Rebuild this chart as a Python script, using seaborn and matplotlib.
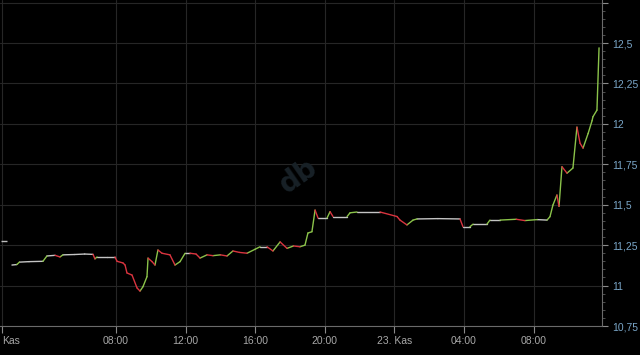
import numpy as np
import pandas as pd
import matplotlib
matplotlib.use("Agg")
import matplotlib.pyplot as plt
from matplotlib.ticker import FixedLocator, AutoMinorLocator
import seaborn as sns

# hours since 22 Nov 00:00
hours = [2.02, 2.30, 2.45, 3.00, 3.80, 4.03, 4.50, 4.78, 4.95, 5.60, 6.20, 6.68, 6.79, 6.91,
         7.50, 7.94, 8.06, 8.40, 8.52, 8.63, 8.92, 9.21, 9.38, 9.55, 9.78, 9.84, 10.07, 10.24,
         10.41, 10.64, 11.10, 11.39, 11.68, 11.97, 12.25, 12.60, 12.83, 13.23, 13.57, 14.00,
         14.38, 14.72, 15.10, 15.53, 16.00, 16.28, 16.68, 17.02, 17.43, 17.83, 18.20, 18.57,
         18.86, 19.03, 19.26, 19.44, 19.61, 20.13, 20.30, 20.47, 21.28, 21.45, 21.85, 23.17,
         24.15, 24.32, 24.72, 25.07, 25.30, 26.50, 27.77, 27.94, 28.34, 28.52, 29.32, 29.49,
         30.07, 31.00, 31.50, 32.20, 32.77, 32.94, 33.11, 33.34, 33.46, 33.63, 33.92, 34.26,
         34.49, 34.67, 34.84, 35.13, 35.36, 35.41, 35.64, 35.76]
prices = [11.127, 11.130, 11.145, 11.148, 11.150, 11.183, 11.187, 11.177, 11.190, 11.192,
          11.195, 11.193, 11.165, 11.177, 11.177, 11.177, 11.150, 11.140, 11.127, 11.078,
          11.065, 10.985, 10.966, 10.993, 11.055, 11.170, 11.148, 11.127, 11.220, 11.200,
          11.190, 11.127, 11.148, 11.200, 11.200, 11.195, 11.170, 11.190, 11.185, 11.190,
          11.183, 11.214, 11.205, 11.200, 11.225, 11.240, 11.240, 11.214, 11.270, 11.230,
          11.245, 11.240, 11.250, 11.325, 11.333, 11.467, 11.418, 11.418, 11.457, 11.427,
          11.427, 11.450, 11.455, 11.455, 11.427, 11.405, 11.375, 11.405, 11.412, 11.414,
          11.412, 11.364, 11.364, 11.380, 11.380, 11.405, 11.405, 11.410, 11.402, 11.408,
          11.405, 11.426, 11.498, 11.560, 11.490, 11.735, 11.695, 11.727, 11.980, 11.880,
          11.850, 11.940, 12.020, 12.044, 12.085, 12.470]
prev_close = 11.277
prev_hours = [1.40, 1.75]

xtick_pos = [1.45, 8, 12, 16, 20, 24, 28, 32]
xtick_lab = ["Kas", "08:00", "12:00", "16:00", "20:00", "23. Kas", "04:00", "08:00"]
ytick_pos = [10.75, 11.0, 11.25, 11.5, 11.75, 12.0, 12.25, 12.5, 12.75]
ytick_lab = ["10,75", "11", "11,25", "11,5", "11,75", "12", "12,25", "12,5", ""]

# build per-segment long table
rows = []
for i in range(1, len(hours)):
    d = prices[i] - prices[i - 1]
    kind = "up" if d > 0.004 else ("down" if d < -0.004 else "flat")
    rows.append((i, hours[i - 1], prices[i - 1], kind))
    rows.append((i, hours[i], prices[i], kind))
seg = pd.DataFrame(rows, columns=["seg", "h", "p", "kind"])

sns.set_style("dark")
plt.rcParams["font.family"] = ["Liberation Sans", "DejaVu Sans"]

fig = plt.figure(figsize=(6.4, 3.55), dpi=100, facecolor="#000000")
ax = fig.add_axes([0.0, 1 - 326 / 355, 602 / 640, 326 / 355])
ax.set_facecolor("#000000")

ax.set_xlim(1.333, 35.93)
ax.set_ylim(10.75, 12.766)

ax.grid(True, color="#262626", lw=0.8)
ax.set_axisbelow(True)

sns.lineplot(data=seg, x="h", y="p", hue="kind", units="seg", estimator=None,
             palette={"up": "#8bc34a", "down": "#d9343f", "flat": "#c4c4c4"},
             lw=1.0, legend=False, ax=ax, sort=False)
ax.hlines(prev_close, prev_hours[0], prev_hours[1], color="#bdbdbd", lw=1.0)

ax.text(18.5, 11.68, "db", fontsize=20, fontweight="bold", color="#182127",
        rotation=35, ha="center", va="center", family="DejaVu Sans")

ax.xaxis.set_major_locator(FixedLocator(xtick_pos))
ax.set_xticklabels(xtick_lab)
ax.get_xticklabels()[0].set_horizontalalignment("left")
ax.yaxis.set_major_locator(FixedLocator(ytick_pos))
ax.set_yticklabels(ytick_lab)
ax.yaxis.set_minor_locator(AutoMinorLocator(5))
ax.yaxis.tick_right()

ax.tick_params(axis="x", colors="#8a8a8a", labelcolor="#a8a8a8", labelsize=7.5,
               length=5, width=0.8, pad=2, direction="out", bottom=True)
ax.tick_params(axis="y", which="major", colors="#8a8a8a", labelcolor="#7aa6c8",
               labelsize=7.5, length=4.5, width=0.8, pad=2.5, right=True, left=False)
ax.tick_params(axis="y", which="minor", colors="#5a5a5a", length=2, width=0.6,
               right=True, left=False)

for s in ["top", "left"]:
    ax.spines[s].set_visible(False)
ax.spines["right"].set_color("#6a6a6a")
ax.spines["right"].set_linewidth(0.8)
ax.spines["bottom"].set_color("#6a6a6a")
ax.spines["bottom"].set_linewidth(0.8)
ax.set_xlabel("")
ax.set_ylabel("")

fig.savefig("out.png", dpi=100, facecolor="#000000")
